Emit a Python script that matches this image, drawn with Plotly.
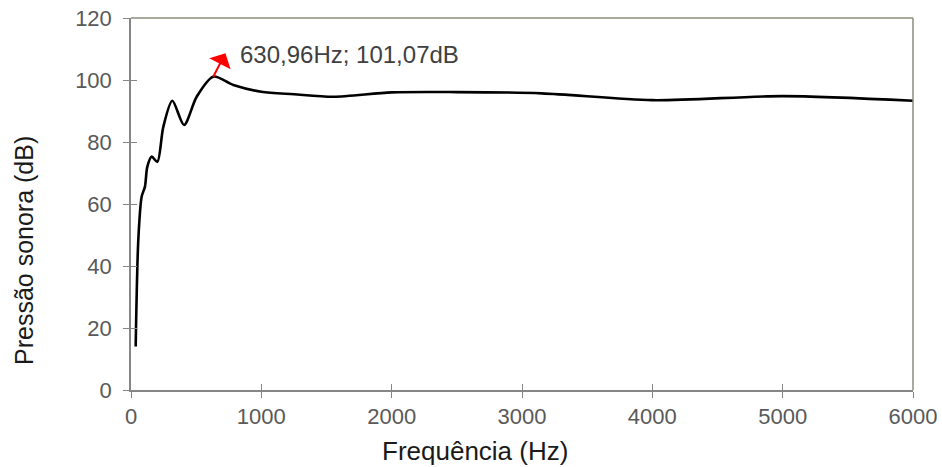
import plotly.graph_objects as go

freq_hz = [36, 56, 82, 107, 125, 159, 202, 248, 317, 407, 504, 630.96, 785, 1000,
           1250, 1553, 2000, 2500, 3150, 4000, 5000, 6000]
spl_db = [14.0, 48.4, 62.4, 65.6, 72.0, 75.3, 73.6, 84.9, 93.3, 85.5, 94.6, 101.07, 98.4, 96.2,
          95.4, 94.6, 96.0, 96.1, 95.7, 93.5, 94.8, 93.3]
x_ticks = [0, 1000, 2000, 3000, 4000, 5000, 6000]
y_ticks = [0, 20, 40, 60, 80, 100, 120]
peak_hz = 630.96
peak_db = 101.07
peak_label = "630,96Hz; 101,07dB"
x_title = "Frequência (Hz)"
y_title = "Pressão sonora (dB)"

FONT = "Liberation Sans, Arial, sans-serif"
AXIS_COLOR = "#868686"

fig = go.Figure()
fig.add_trace(go.Scatter(x=freq_hz, y=spl_db, mode="lines",
                         line=dict(color="black", width=2.6, shape="spline", smoothing=0.8),
                         hoverinfo="skip", showlegend=False))
# invisible trace on overlay axes (for crossing ticks)
fig.add_trace(go.Scatter(x=[0], y=[0], xaxis="x2", yaxis="y2", mode="markers",
                         marker=dict(opacity=0), showlegend=False, hoverinfo="skip"))

fig.update_layout(
    width=942, height=467,
    margin=dict(l=131, r=29, t=18, b=77),
    paper_bgcolor="white", plot_bgcolor="white",
    font=dict(family=FONT, size=22, color="#595959"),
    xaxis=dict(range=[0, 6000], tickvals=x_ticks, ticks="outside", ticklen=6,
               tickcolor=AXIS_COLOR, tickwidth=1, showline=True, linecolor=AXIS_COLOR,
               linewidth=1.5, showgrid=False, zeroline=False, automargin=False,
               tickfont=dict(size=22, color="#595959")),
    yaxis=dict(range=[0, 120], tickvals=y_ticks, ticks="outside", ticklen=6,
               tickcolor=AXIS_COLOR, tickwidth=1, showline=True, linecolor=AXIS_COLOR,
               linewidth=1.5, showgrid=False, zeroline=False, automargin=False,
               ticklabelstandoff=7,
               tickfont=dict(size=22, color="#595959")),
    xaxis2=dict(range=[0, 6000], overlaying="x", tickvals=x_ticks, ticks="inside", ticklen=6,
                tickcolor=AXIS_COLOR, showticklabels=False, showgrid=False, zeroline=False,
                showline=False, automargin=False),
    yaxis2=dict(range=[0, 120], overlaying="y", tickvals=y_ticks, ticks="inside", ticklen=6,
                tickcolor=AXIS_COLOR, showticklabels=False, showgrid=False, zeroline=False,
                showline=False, automargin=False),
)

# axis titles (placed like the original, slightly off-centre)
fig.add_annotation(text=x_title, xref="paper", yref="paper", x=0.4399, y=-0.164,
                   xanchor="center", yanchor="middle", showarrow=False,
                   font=dict(size=26, color="#1a1a1a", family=FONT))
fig.add_annotation(text=y_title, xref="paper", yref="paper", x=-0.1368, y=0.3737,
                   xanchor="center", yanchor="middle", showarrow=False, textangle=-90,
                   font=dict(size=25, color="#1a1a1a", family=FONT))

# top and right border lines
fig.add_shape(type="line", xref="paper", yref="paper", x0=0, x1=1, y0=1, y1=1,
              line=dict(color="#8c8c7c", width=1.5))
fig.add_shape(type="line", xref="paper", yref="paper", x0=1, x1=1, y0=0, y1=1,
              line=dict(color="#8c8c7c", width=1.5))

# red arrow from the peak, pointing up-right (head at the start end, away from the peak)
fig.add_annotation(x=peak_hz, y=peak_db, ax=13, ay=-25, text="", showarrow=True,
                   arrowside="start", startarrowhead=1, startarrowsize=2.0, arrowwidth=2.0,
                   arrowhead=1, arrowsize=2.0,
                   arrowcolor="#ff0000", standoff=0, startstandoff=0)
fig.add_annotation(x=peak_hz, y=peak_db, xref="x", yref="y", text=peak_label, showarrow=False,
                   xanchor="left", yanchor="middle", xshift=25, yshift=22,
                   font=dict(size=24, color="#404040", family=FONT))

fig.write_html("out.html")
